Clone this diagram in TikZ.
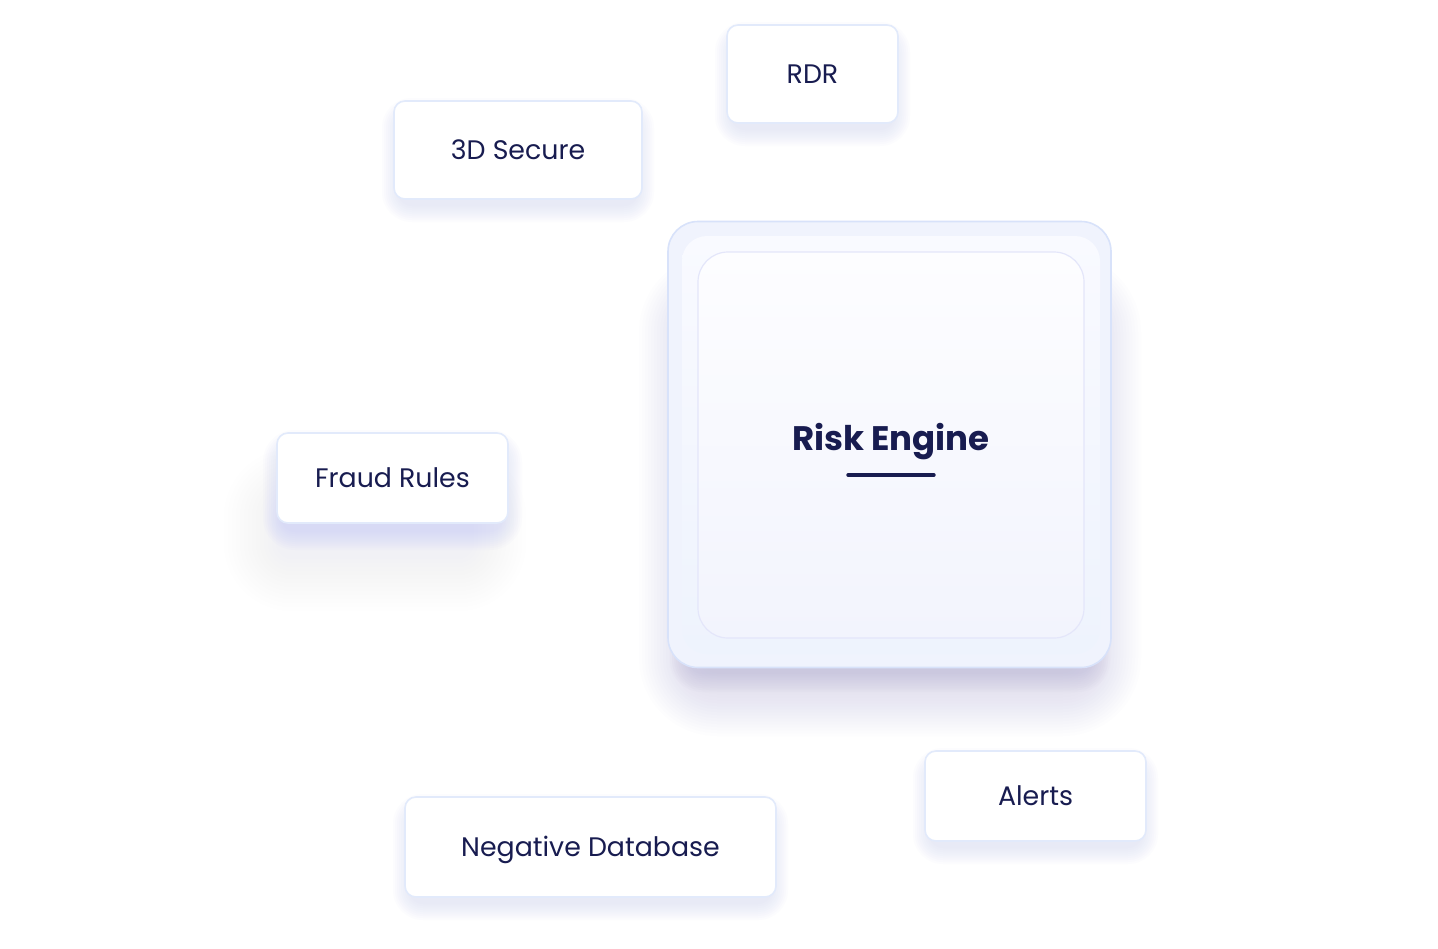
\documentclass[tikz,border=0pt]{standalone}
\usepackage{fontspec}
\setmainfont{Poppins}
\usetikzlibrary{calc}
\definecolor{ink}{HTML}{181C50}
\definecolor{cardline}{HTML}{E2EAFB}
\definecolor{shadowcol}{HTML}{C9D0EE}
\definecolor{softblue}{HTML}{B8C3F5}
\definecolor{bigshadow}{HTML}{B8B4D8}
\definecolor{outerfill}{HTML}{F0F3FD}
\definecolor{outerline}{HTML}{D8E2FA}
\definecolor{midtop}{HTML}{F9FAFF}
\definecolor{midbot}{HTML}{EEF3FD}
\definecolor{innertop}{HTML}{FDFDFF}
\definecolor{innerbot}{HTML}{F2F4FD}
\definecolor{innerline}{HTML}{E4E6FA}
% soft shadow: #1 x1, #2 y1, #3 x2, #4 y2, #5 dy, #6 steps, #7 step size, #8 colour, #9 opacity
\newcommand\softshade[9]{%
  \foreach \i in {1,...,#6}{%
    \fill[#8, opacity=#9, rounded corners={12+\i*#7}]
      (#1-\i*#7, #2+#5-\i*#7) rectangle (#3+\i*#7, #4+#5+\i*#7);
  }%
}
\tikzset{
  card/.style={draw=cardline, line width=1.6pt, fill=white, rounded corners=11pt,
    text=ink, font=\fontsize{26.8}{30}\selectfont, inner sep=0pt,
    text height=18.8pt, text depth=0pt},
}
\begin{document}
\begin{tikzpicture}[x=1pt,y=-1pt]
\useasboundingbox (0,0) rectangle (1438,948);
\fill[white] (0,0) rectangle (1438,948);
% ---------- shadows ----------
\softshade{705}{290}{1075}{640}{30}{22}{3}{bigshadow}{0.02}
\softshade{690}{600}{1090}{650}{22}{10}{2}{bigshadow}{0.05}
\softshade{400}{108}{636}{196}{8}{9}{2}{shadowcol}{0.05}
\softshade{733}{32}{892}{120}{8}{9}{2}{shadowcol}{0.05}
\softshade{283}{440}{502}{520}{10}{10}{2}{shadowcol}{0.05}
\softshade{280}{480}{470}{530}{25}{14}{4}{softblue}{0.008}
\softshade{411}{804}{770}{894}{8}{9}{2}{shadowcol}{0.05}
\softshade{931}{758}{1140}{838}{8}{9}{2}{shadowcol}{0.05}
% ---------- centre block ----------
\node[draw=outerline, line width=1.6pt, fill=outerfill, rounded corners=30pt,
      minimum width=443pt, minimum height=446pt, inner sep=0pt] (outer) at (889.5,444.5) {};
\node[top color=midtop, bottom color=midbot, draw=none, rounded corners=25pt,
      minimum width=418pt, minimum height=418pt, inner sep=0pt] (mid) at (891,445) {};
\node[top color=innertop, bottom color=innerbot, draw=innerline, line width=1.2pt,
      rounded corners=30pt, minimum width=386pt, minimum height=386pt, inner sep=0pt] (inner) at (891,445) {};
\node[text=ink, font=\bfseries\fontsize{34}{40}\selectfont, inner sep=0pt,
      text height=23.8pt, text depth=0pt] (title) at (891,439) {Risk Engine};
\coordinate (ulL) at (848,475);
\coordinate (ulR) at (934,475);
\draw[ink, line width=3.4pt, line cap=round] (ulL) -- (ulR);
% ---------- cards ----------
\node[card, minimum width=171pt, minimum height=98pt] (rdr) at (812.5,74) {RDR};
\node[card, minimum width=248pt, minimum height=98pt] (tds) at (518,150) {3D Secure};
\node[card, minimum width=231pt, minimum height=90pt] (fraud) at (392.5,478) {Fraud Rules};
\node[card, minimum width=371pt, minimum height=100pt] (neg) at (590.5,847) {Negative Database};
\node[card, minimum width=221pt, minimum height=90pt] (alerts) at (1035.5,796) {Alerts};
\end{tikzpicture}
\end{document}
